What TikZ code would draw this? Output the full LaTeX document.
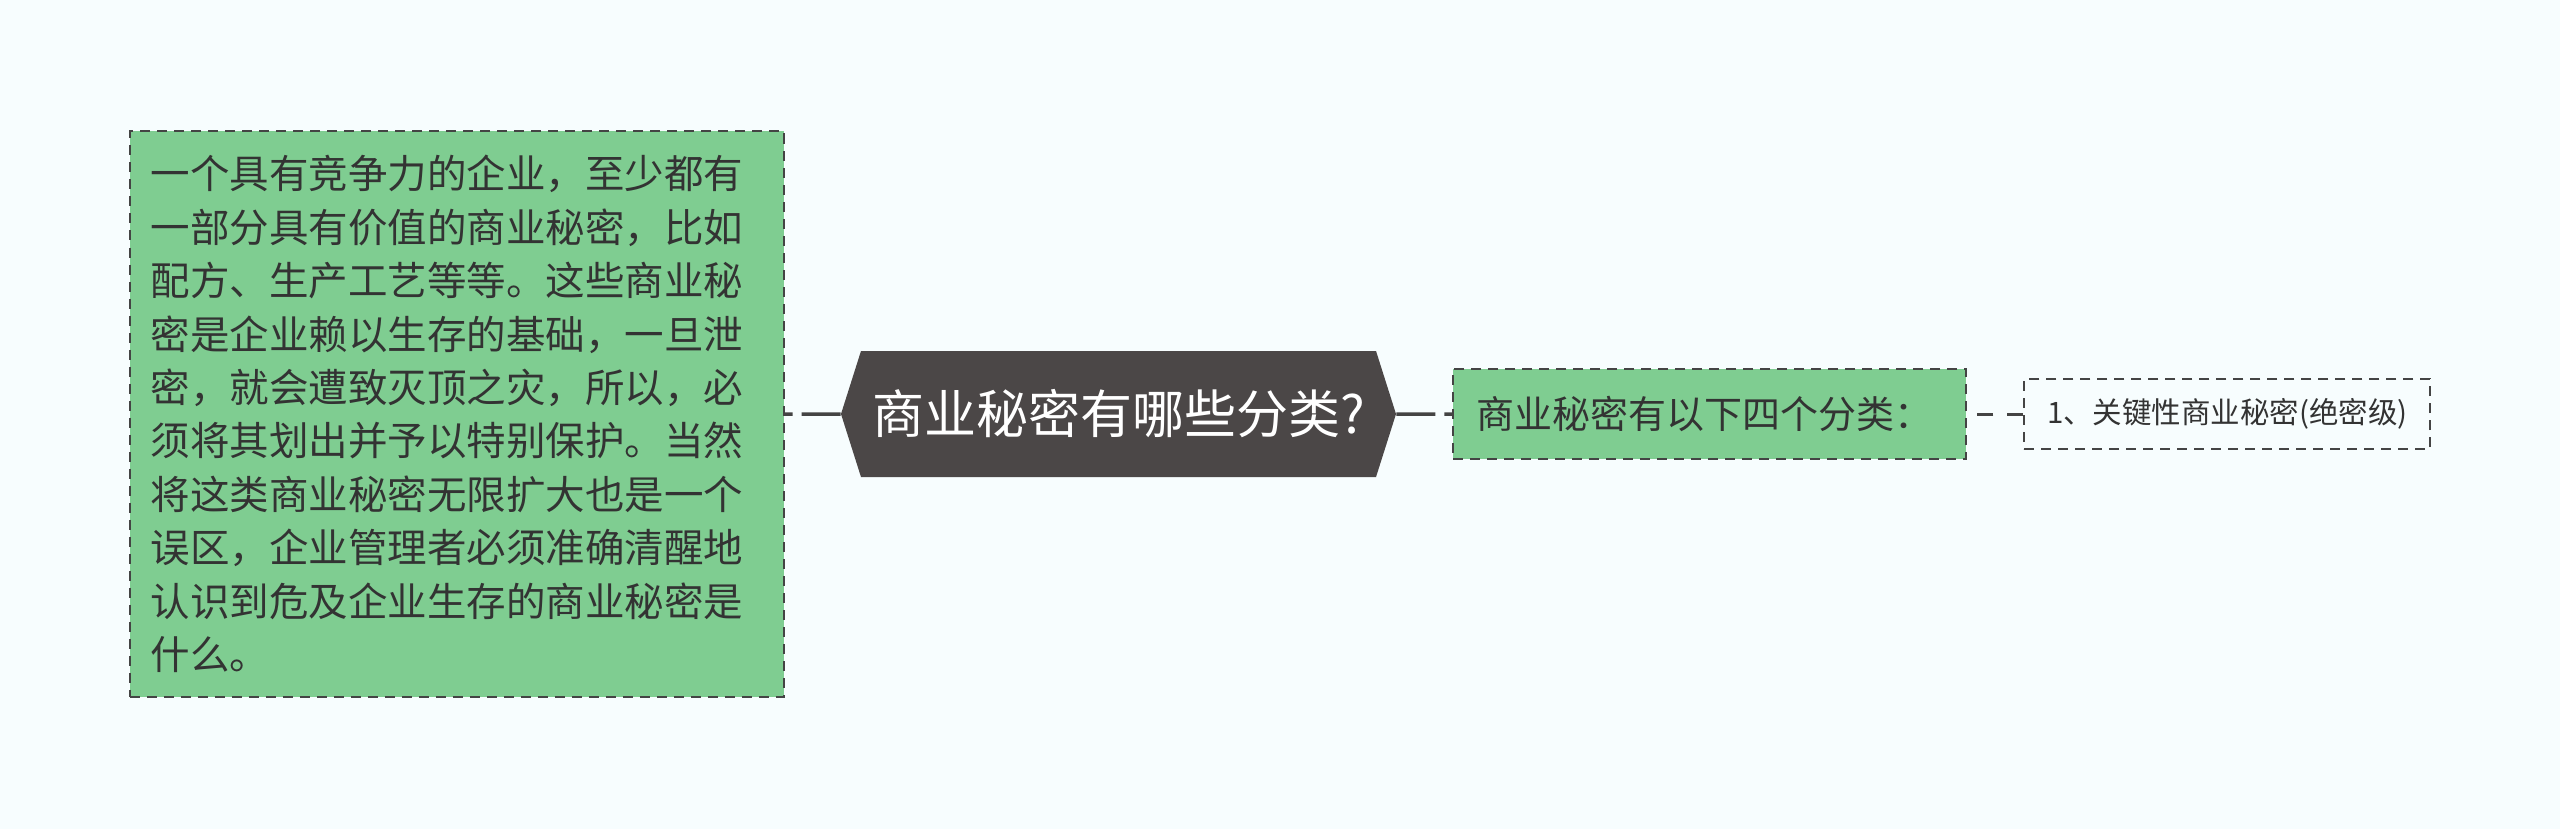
\documentclass[tikz,border=0pt]{standalone}
\usepackage{fontspec}
\setmainfont{Noto Sans CJK SC}
\usetikzlibrary{positioning,shapes.symbols}

\definecolor{bgcol}{HTML}{F7FDFE}
\definecolor{leafgreen}{HTML}{7FCD91}
\definecolor{rootgray}{HTML}{4B4747}
\definecolor{inkgray}{HTML}{333333}
\definecolor{edgegray}{HTML}{444444}

\tikzset{
  topic/.style={signal,signal to=west and east,signal pointer angle=144.8,
    fill=rootgray,text=white,inner sep=0pt,
    minimum width=277.5pt,minimum height=63pt,
    font=\fontsize{26pt}{30pt}\selectfont},
  leaf/.style={rectangle,draw=edgegray,line width=1pt,
    dash pattern=on 5pt off 3.5pt,text=inkgray,inner sep=0pt},
  greenleaf/.style={leaf,fill=leafgreen},
  rootlink/.style={draw=edgegray,line width=1.75pt,dash pattern=on 19.5pt off 4.5pt},
  link/.style={draw=edgegray,line width=1.5pt,dash pattern=on 8pt off 7pt}
}

\begin{document}
\begin{tikzpicture}[node distance=28pt]
   \useasboundingbox[fill=bgcol] (0,0) rectangle (1280pt,-414.5pt);
   \node[topic] (root) at (559.25pt,-207pt) {商业秘密有哪些分类?};
   \node[greenleaf,text width=306pt,inner xsep=10.5pt,minimum height=282.5pt,align=left,
         font=\fontsize{19.75pt}{26.7pt}\selectfont] (why) [left=of root]
        {一个具有竞争力的企业，至少都有\\
         一部分具有价值的商业秘密，比如\\
         配方、生产工艺等等。这些商业秘\\
         密是企业赖以生存的基础，一旦泄\\
         密，就会遭致灭顶之灾，所以，必\\
         须将其划出并予以特别保护。当然\\
         将这类商业秘密无限扩大也是一个\\
         误区，企业管理者必须准确清醒地\\
         认识到危及企业生存的商业秘密是\\
         什么。};
   \node[greenleaf,text width=233.5pt,inner xsep=11.5pt,minimum height=45pt,align=left,
         font=\fontsize{19pt}{23pt}\selectfont] (kinds) [right=of root] {商业秘密有以下四个分类：};
   \node[leaf,fill=bgcol,minimum width=203pt,minimum height=35pt,
         font=\fontsize{14.75pt}{18pt}\selectfont] (kind1) [right=of kinds] {1、关键性商业秘密(绝密级)};
   \path[rootlink]
    (root) edge (why)
    (root) edge (kinds);
   \path[link]
    (kind1) edge (kinds);
\end{tikzpicture}
\end{document}
